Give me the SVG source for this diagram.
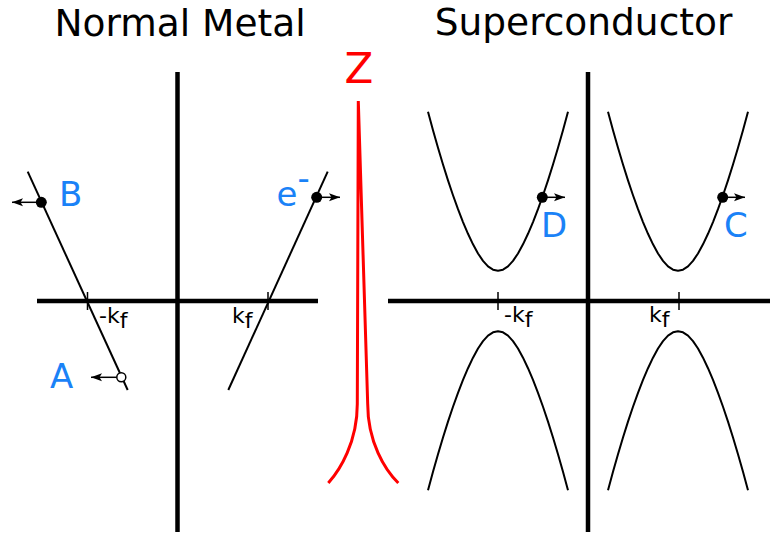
<svg xmlns="http://www.w3.org/2000/svg" xmlns:xlink="http://www.w3.org/1999/xlink" width="772" height="535" viewBox="0 0 772 535">
  <style>
    text { font-family: "DejaVu Sans", Verdana, sans-serif; }
    .title { font-size: 37.5px; fill: #000; }
    .lbl { font-size: 34px; fill: #1a82f7; }
    .k { font-size: 22px; fill: #000; }
    .axis { stroke: #000; stroke-width: 4.5; fill: none; }
    .band { stroke: #000; stroke-width: 2; fill: none; stroke-linejoin: round; }
    .tick { stroke: #000; stroke-width: 1.5; }
    .arr { stroke: #000; stroke-width: 1.5; marker-end: url(#head); }
    .red { stroke: #ff0000; stroke-width: 3; fill: none; }
  </style>
  <defs>
    <marker id="head" markerUnits="userSpaceOnUse" markerWidth="11" markerHeight="9" viewBox="0 0 11 9" refX="11" refY="4.5" orient="auto">
      <path d="M0,0.5 L11,4.5 L0,8.5 L2.5,4.5 z" fill="#000"/>
    </marker>
    <polyline id="upper" points="-70,111.65 -65,130.17 -60,147.81 -55,164.55 -50,180.38 -45,195.26 -40,209.16 -35,222.03 -30,233.79 -25,244.32 -20,253.45 -15,260.93 -10,266.43 -5,269.69 0,270.7 5,269.69 10,266.43 15,260.93 20,253.45 25,244.32 30,233.79 35,222.03 40,209.16 45,195.26 50,180.38 55,164.55 60,147.81 65,130.17 70,111.65"/>
    <polyline id="lower" points="-70,490.35 -65,471.83 -60,454.19 -55,437.45 -50,421.62 -45,406.74 -40,392.84 -35,379.97 -30,368.21 -25,357.68 -20,348.55 -15,341.07 -10,335.57 -5,332.31 0,331.3 5,332.31 10,335.57 15,341.07 20,348.55 25,357.68 30,368.21 35,379.97 40,392.84 45,406.74 50,421.62 55,437.45 60,454.19 65,471.83 70,490.35"/>
  </defs>
  <rect width="772" height="535" fill="#fff"/>

  <g id="normal-metal">
    <text class="title" x="180" y="36" text-anchor="middle">Normal Metal</text>
    <line class="axis" x1="177.5" y1="72" x2="177.5" y2="532"/>
    <line class="axis" x1="37" y1="301" x2="318" y2="301"/>
    <line class="band" x1="27.7" y1="171.7" x2="127.7" y2="390"/>
    <line class="band" x1="327.7" y1="171.7" x2="228.3" y2="390"/>
    <line class="tick" x1="87.5" y1="292" x2="87.5" y2="310"/>
    <line class="tick" x1="268" y1="292" x2="268" y2="310"/>
    <text class="k" x="99" y="323">-k<tspan dy="5">f</tspan></text>
    <text class="k" x="232" y="323">k<tspan dy="5">f</tspan></text>
  </g>

  <g id="barrier">
    <text x="359" y="83" font-size="42" fill="#ff0000" text-anchor="middle">Z</text>
    <path class="red" d="M357.3,404 L358.3,101 L367.7,404 M357.3,404 C357.3,442 340,470 328.3,483 M367.7,404 C367.7,442 385,470 398.3,483"/>
  </g>

  <g id="superconductor">
    <text class="title" x="583.5" y="35" text-anchor="middle">Superconductor</text>
    <line class="axis" x1="588" y1="72" x2="588" y2="532"/>
    <line class="axis" x1="388" y1="301" x2="770" y2="301"/>
    <use class="band" xlink:href="#upper" href="#upper" x="498"/>
    <use class="band" xlink:href="#lower" href="#lower" x="498"/>
    <use class="band" xlink:href="#upper" href="#upper" x="678"/>
    <use class="band" xlink:href="#lower" href="#lower" x="678"/>
    <line class="tick" x1="498" y1="292" x2="498" y2="310"/>
    <line class="tick" x1="679" y1="292" x2="679" y2="310"/>
    <text class="k" x="504" y="322">-k<tspan dy="5">f</tspan></text>
    <text class="k" x="649" y="322">k<tspan dy="5">f</tspan></text>
  </g>

  <g id="connectors">
    <line class="arr" x1="41.3" y1="202.3" x2="12" y2="202.3"/>
    <line class="arr" x1="117" y1="377.3" x2="91" y2="377.3"/>
    <line class="arr" x1="316.7" y1="197.3" x2="340" y2="197.3"/>
    <line class="arr" x1="542.3" y1="197.3" x2="565" y2="197.3"/>
    <line class="arr" x1="722.7" y1="197.3" x2="745" y2="197.3"/>
  </g>

  <g id="state-B">
    <circle cx="41.3" cy="202.3" r="5.5" fill="#000"/>
    <text class="lbl" x="59" y="206">B</text>
  </g>
  <g id="state-A">
    <circle cx="121.3" cy="377.3" r="4.5" fill="#fff" stroke="#000" stroke-width="1.5"/>
    <text class="lbl" x="50" y="388">A</text>
  </g>
  <g id="state-e">
    <circle cx="316.7" cy="197.3" r="5.5" fill="#000"/>
    <text class="lbl" x="276.5" y="206" font-size="36">e<tspan dy="-16" font-size="34">-</tspan></text>
  </g>
  <g id="state-D">
    <circle cx="542.3" cy="197.3" r="5.5" fill="#000"/>
    <text class="lbl" x="541" y="236.5">D</text>
  </g>
  <g id="state-C">
    <circle cx="722.7" cy="197.3" r="5.5" fill="#000"/>
    <text class="lbl" x="724" y="236.5">C</text>
  </g>
</svg>
